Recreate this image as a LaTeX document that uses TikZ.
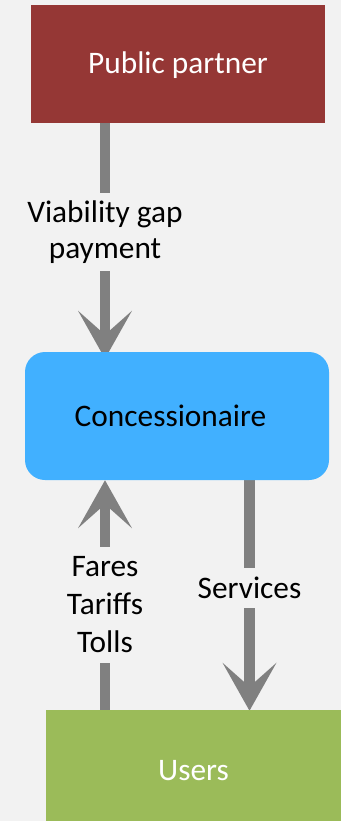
\documentclass[tikz,border=0pt]{standalone}
\usepackage{fontspec}
\setmainfont{Carlito}
\usetikzlibrary{arrows.meta}
\definecolor{canvas}{HTML}{F2F2F2}
\definecolor{partnerred}{HTML}{953735}
\definecolor{concblue}{HTML}{41B0FF}
\definecolor{usergreen}{HTML}{9BBB59}
\definecolor{flowgrey}{HTML}{808080}
\pgfdeclarelayer{canvaslayer}
\pgfdeclarelayer{flows}
\pgfsetlayers{canvaslayer,flows,main}
\begin{document}
\begin{tikzpicture}[x=0.75pt,y=-0.75pt,
  block/.style={rectangle, inner sep=0pt, font=\fontsize{23.5}{28}\selectfont,
    text height=15pt, text depth=0pt},
  tag/.style={fill=canvas, inner xsep=3pt, inner ysep=0pt, align=center,
    font=\fontsize{23.5}{27}\selectfont},
  flow/.style={draw=flowgrey, line width=8pt,
    -{Stealth[length=36pt, width=40.5pt, inset=18pt, line width=0pt]}},
]
\useasboundingbox (0,0) rectangle (341,821);
\begin{pgfonlayer}{canvaslayer}
  \fill[canvas] (0,0) rectangle (341,821);
\end{pgfonlayer}

% the three parties
\node[block, fill=partnerred, text=white, minimum width=220.5pt, minimum height=88.125pt]
  (pp) at (178,63.75) {Public partner};
\node[block, fill=concblue, rounded corners=15pt, minimum width=228pt, minimum height=96pt]
  (con) at (177,416) {Concessionaire\kern9.75pt};
\node[block, fill=usergreen, text=white, minimum width=221.25pt, minimum height=90pt]
  (us) at (193.5,770) {Users};

% flow labels, masking the arrow shafts
\node[tag, minimum height=58.5pt] (vg) at (105,232) {Viability gap\\payment};
\node[tag, font=\fontsize{23.5}{28.5}\selectfont, minimum height=87pt]
  (ft) at (105,605) {Fares\\Tariffs\\Tolls};
\node[tag, minimum height=30pt] (sv) at (249.5,588) {Services};

% money and service flows
\begin{pgfonlayer}{flows}
  \draw[flow, shorten >=-5.25pt] (pp.south -| vg) -- (con.north -| vg);
  \draw[flow] (us.north -| ft) -- (con.south -| ft);
  \draw[flow, shorten >=-0.75pt] (con.south -| sv) -- (us.north -| sv);
\end{pgfonlayer}
\end{tikzpicture}
\end{document}
